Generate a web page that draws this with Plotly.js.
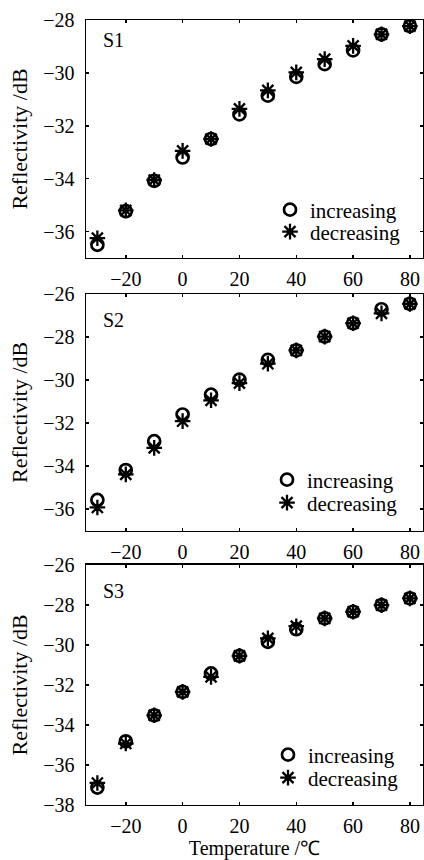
<!DOCTYPE html>
<html>
<head>
<meta charset="utf-8">
<script src="https://cdn.plot.ly/plotly-3.0.1.min.js"></script>
<style>html,body{margin:0;padding:0;background:#fff;}#chart{width:424px;height:860px;}</style>
</head>
<body>
<div id="chart"></div>
<script>
const temperature = [-30, -20, -10, 0, 10, 20, 30, 40, 50, 60, 70, 80];

const s1Increasing = [-36.50, -35.23, -34.08, -33.20, -32.50, -31.57, -30.86, -30.15, -29.67, -29.15, -28.54, -28.23];
const s1Decreasing = [-36.25, -35.20, -34.05, -32.95, -32.50, -31.36, -30.66, -29.98, -29.48, -28.98, -28.54, -28.23];

const s2Increasing = [-35.57, -34.18, -32.84, -31.60, -30.68, -29.98, -29.06, -28.62, -27.98, -27.36, -26.71, -26.46];
const s2Decreasing = [-35.92, -34.38, -33.15, -31.91, -30.94, -30.14, -29.24, -28.62, -27.98, -27.36, -26.90, -26.46];

const s3Increasing = [-37.13, -34.82, -33.52, -32.35, -31.43, -30.55, -29.85, -29.22, -28.68, -28.35, -28.02, -27.68];
const s3Decreasing = [-36.90, -34.93, -33.52, -32.35, -31.60, -30.55, -29.68, -29.07, -28.68, -28.35, -28.02, -27.68];

const panelLabels = ["S1", "S2", "S3"];
const seriesNames = ["increasing", "decreasing"];
const xTitle = "Temperature /℃";
const yTitle = "Reflectivity /dB";

const FONT = "'Liberation Serif', 'Times New Roman', serif";

const circleMarker = {symbol: "circle-open", size: 12, color: "#000", line: {width: 2.7, color: "#000"}};
const starMarker = {symbol: "asterisk-open", size: 13, color: "#000", line: {width: 2.3, color: "#000"}};

const panels = [
  {inc: s1Increasing, dec: s1Decreasing, xa: "x", ya: "y"},
  {inc: s2Increasing, dec: s2Decreasing, xa: "x2", ya: "y2"},
  {inc: s3Increasing, dec: s3Decreasing, xa: "x3", ya: "y3"}
];

const traces = [];
panels.forEach((p, i) => {
  const n1 = i * 2 + 1, n2 = i * 2 + 2;
  traces.push({x: temperature, y: p.inc, xaxis: p.xa, yaxis: p.ya, type: "scatter", mode: "markers",
    name: seriesNames[0], marker: circleMarker, legend: n1 === 1 ? "legend" : "legend" + n1});
  traces.push({x: temperature, y: p.dec, xaxis: p.xa, yaxis: p.ya, type: "scatter", mode: "markers",
    name: seriesNames[1], marker: starMarker, legend: "legend" + n2});
});

function xAxis(domainAnchor, showTitle) {
  const a = {range: [-34, 84.6], tick0: 0, dtick: 20, ticks: "inside", ticklen: 3, tickwidth: 1.5, tickcolor: "#000",
    showline: true, linecolor: "#000", linewidth: 1.4, mirror: "ticks", zeroline: false, showgrid: false,
    anchor: domainAnchor, tickfont: {family: FONT, size: 20, color: "#000"}, ticklabelstandoff: 3};
  if (showTitle) a.title = {text: xTitle, font: {family: FONT, size: 20, color: "#000"}, standoff: 9};
  return a;
}
function yAxis(range, domain, anchor) {
  return {range: range, domain: domain, dtick: 2, ticks: "inside", ticklen: 3, tickwidth: 1.5, tickcolor: "#000",
    showline: true, linecolor: "#000", linewidth: 1.4, mirror: "ticks", zeroline: false, showgrid: false,
    anchor: anchor, tickfont: {family: FONT, size: 20, color: "#000"}, ticklabelstandoff: 6,
    title: {text: yTitle, font: {family: FONT, size: 22, color: "#000"}, standoff: 9}};
}

function legendAt(xPix, yPix) {
  return {x: (xPix - 86) / 337, y: 1 - (yPix - 20) / 785, xanchor: "left", yanchor: "middle",
    bgcolor: "rgba(0,0,0,0)", borderwidth: 0, font: {family: FONT, size: 21, color: "#000"}};
}

const layout = {
  width: 424, height: 860,
  margin: {l: 86, r: 1, t: 20, b: 55},
  paper_bgcolor: "#fff", plot_bgcolor: "#fff",
  font: {family: FONT, size: 20, color: "#000"},
  showlegend: true,
  xaxis: xAxis("y", false),
  xaxis2: xAxis("y2", false),
  xaxis3: xAxis("y3", true),
  yaxis: yAxis([-37, -28], [0.6968, 1], "x"),
  yaxis2: yAxis([-37, -26], [0.3494, 0.651], "x2"),
  yaxis3: yAxis([-38, -26], [0, 0.3061], "x3"),
  legend: legendAt(270, 210),
  legend2: legendAt(270, 232),
  legend3: legendAt(267, 480),
  legend4: legendAt(267, 503),
  legend5: legendAt(268, 755),
  legend6: legendAt(268, 778),
  annotations: panelLabels.map((t, i) => ({
    text: t, xref: ["x", "x2", "x3"][i] + " domain", yref: ["y", "y2", "y3"][i] + " domain",
    x: 0.045, y: i === 0 ? 0.915 : 0.89, xanchor: "left", yanchor: "middle", showarrow: false,
    font: {family: FONT, size: 20, color: "#000"}
  }))
};

Plotly.newPlot("chart", traces, layout, {staticPlot: true, displayModeBar: false});
</script>
</body>
</html>
